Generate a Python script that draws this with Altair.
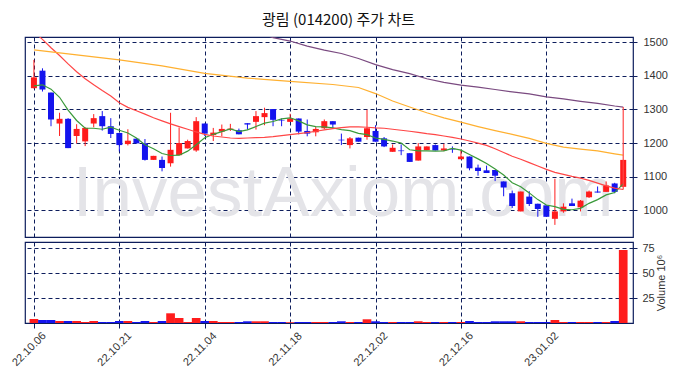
import altair as alt
import pandas as pd

# ---------------- data ----------------
opens = [1363, 1415, 1350, 1258, 1272, 1221, 1205, 1258, 1280, 1250,
         1230, 1197, 1213, 1199, 1150, 1150, 1140, 1164, 1184, 1178,
         1258, 1224, 1234, 1239, 1238, 1259, 1263, 1277, 1301, 1268,
         1263, 1273, 1236, 1232, 1244, 1265, 1210, 1194, 1216, 1218,
         1236, 1214, 1174, 1178, 1170, 1148, 1179, 1194, 1178, 1183,
         1152, 1160, 1127, 1119, 1120, 1086, 1051, 997, 1041, 1020,
         1015, 975, 997, 1021, 1009, 1039, 1056, 1055, 1080, 1070]
highs = [1447, 1422, 1350, 1290, 1274, 1256, 1247, 1286, 1295, 1274,
         1230, 1241, 1215, 1212, 1162, 1160, 1290, 1246, 1210, 1277,
         1258, 1245, 1255, 1257, 1243, 1259, 1295, 1305, 1301, 1273,
         1287, 1273, 1270, 1248, 1270, 1265, 1228, 1218, 1216, 1299,
         1253, 1218, 1196, 1196, 1170, 1200, 1190, 1196, 1198, 1190,
         1180, 1160, 1136, 1133, 1120, 1086, 1059, 1056, 1057, 1020,
         1015, 1094, 1021, 1035, 1031, 1059, 1071, 1086, 1082, 1150]
lows = [1362, 1353, 1250, 1221, 1185, 1199, 1191, 1247, 1237, 1215,
        1175, 1193, 1199, 1148, 1150, 1116, 1130, 1164, 1184, 1174,
        1221, 1206, 1220, 1236, 1226, 1240, 1240, 1253, 1250, 1250,
        1263, 1226, 1220, 1220, 1241, 1244, 1194, 1184, 1204, 1210,
        1204, 1188, 1174, 1164, 1144, 1148, 1179, 1178, 1176, 1171,
        1152, 1119, 1103, 1111, 1087, 1042, 1007, 997, 1013, 981,
        981, 957, 993, 1013, 997, 1037, 1053, 1055, 1051, 1070]
closes = [1395, 1359, 1270, 1272, 1185, 1242, 1245, 1274, 1250, 1227,
          1194, 1207, 1199, 1150, 1162, 1126, 1180, 1200, 1206, 1265,
          1228, 1231, 1242, 1243, 1226, 1255, 1280, 1289, 1269, 1266,
          1273, 1234, 1228, 1242, 1265, 1255, 1208, 1214, 1204, 1244,
          1204, 1190, 1186, 1176, 1144, 1190, 1190, 1178, 1184, 1181,
          1160, 1125, 1117, 1111, 1103, 1068, 1013, 1056, 1019, 1004,
          981, 997, 1011, 1013, 1029, 1056, 1053, 1074, 1055, 1150]
volumes = [4, 3, 3, 2, 2, 2, 1, 2, 1, 1,
           2, 2, 1, 2, 1, 2, 9.7, 5, 1, 5,
           2, 2, 1, 1, 1, 1.7, 1.7, 1.7, 1, 1,
           0.7, 1, 1, 1, 1, 1, 1.7, 1, 1, 3.7,
           1.7, 1, 1, 1, 1, 1.7, 1, 1, 1, 1,
           1, 2, 1, 1, 1.7, 1.7, 1.7, 1.7, 1, 1,
           1, 3, 1, 1, 1, 1, 1, 1, 2, 73]

ma5 = [1370, 1373, 1360, 1336, 1298, 1267, 1244, 1244, 1241, 1247,
       1238, 1230, 1215, 1195, 1183, 1169, 1163, 1164, 1176, 1195,
       1216, 1226, 1234, 1242, 1234, 1239, 1249, 1259, 1264, 1272,
       1275, 1266, 1254, 1249, 1248, 1245, 1240, 1237, 1229, 1225,
       1215, 1211, 1206, 1200, 1180, 1177, 1177, 1176, 1177, 1184,
       1179, 1166, 1153, 1139, 1123, 1105, 1082, 1070, 1052, 1032,
       1016, 1011, 1003, 1002, 1006, 1021, 1032, 1046, 1053, 1079]
ma20 = [1530, 1508, 1483, 1460, 1435, 1412, 1391, 1373, 1356, 1340,
        1320, 1306, 1296, 1286, 1275, 1266, 1257, 1249, 1241, 1233,
        1226, 1221, 1218, 1215, 1214, 1215, 1216, 1217, 1219, 1222,
        1225, 1228, 1231, 1235, 1239, 1243, 1246, 1248, 1248, 1247,
        1245, 1244, 1241, 1238, 1235, 1232, 1228, 1225, 1221, 1217,
        1212, 1206, 1200, 1193, 1183, 1172, 1161, 1152, 1142, 1132,
        1122, 1113, 1107, 1101, 1096, 1089, 1081, 1073, 1066, 1062]
ma60_idx = [0, 5, 10, 15, 20, 25, 30, 35, 38, 40, 42, 44, 46, 48, 50,
            52, 54, 56, 58, 60, 62, 64, 66, 68, 69]
ma60_val = [1477, 1462, 1447, 1429, 1407, 1393, 1383, 1374, 1365, 1347,
            1325, 1307, 1290, 1275, 1262, 1249, 1237, 1226, 1214, 1199,
            1188, 1182, 1177, 1168, 1164]
ma120_idx = [27, 28, 30, 32, 34, 36, 38, 40, 42, 44, 46, 48, 50, 52, 54,
             56, 58, 60, 62, 64, 66, 68, 69]
ma120_val = [1522, 1513, 1503, 1488, 1476, 1466, 1451, 1433, 1418, 1406,
             1391, 1380, 1372, 1366, 1359, 1352, 1346, 1337, 1331, 1324,
             1318, 1310, 1307]

tick_pos = [0, 10, 20, 30, 40, 50, 60]
tick_labels = ["22.10.06", "22.10.21", "22.11.04", "22.11.18",
               "22.12.02", "22.12.16", "23.01.02"]
price_ticks = [1000, 1100, 1200, 1300, 1400, 1500]
volume_ticks = [25, 50, 75]

title_text = "광림 (014200) 주가 차트"
watermark = "InvestAxiom.com"

# ---------------- tables ----------------
n = len(closes)
df = pd.DataFrame({
    "i": list(range(n)), "o": opens, "h": highs, "l": lows,
    "c": closes, "v": volumes,
})
df["dir"] = ["up" if c >= o else "down" for o, c in zip(opens, closes)]
df["zero"] = 0

ma_rows = []
for k, v in enumerate(ma5):
    ma_rows.append({"i": k, "val": v, "ma": "MA5"})
for k, v in enumerate(ma20):
    ma_rows.append({"i": k, "val": v, "ma": "MA20"})
for k, v in zip(ma60_idx, ma60_val):
    ma_rows.append({"i": k, "val": v, "ma": "MA60"})
for k, v in zip(ma120_idx, ma120_val):
    ma_rows.append({"i": k, "val": v, "ma": "MA120"})
ma_df = pd.DataFrame(ma_rows)

link_df = pd.DataFrame({"i": [n - 1], "a": [ma20[-1]], "b": [ma120_val[-1]]})

RED = "#ff1c1c"
BLUE = "#1414ee"
NAVY = "#0d1d5c"
FONT = "Liberation Sans"

xscale = alt.Scale(domain=[-0.46, 69.56], nice=False, zero=False)
pscale = alt.Scale(domain=[921, 1515], nice=False, zero=False)
vscale = alt.Scale(domain=[0, 81], nice=False)
cscale = alt.Scale(domain=["up", "down"], range=[RED, BLUE])
mscale = alt.Scale(domain=["MA5", "MA20", "MA60", "MA120"],
                   range=["#3a9a3a", "#ff4646", "#ffb030", "#7a4a80"])

grid_kw = dict(grid=True, gridColor=NAVY, gridDash=[4, 3], gridWidth=1,
               gridOpacity=1)

x_axis_top = alt.Axis(values=tick_pos, labels=False, ticks=False,
                      domain=False, **grid_kw)
y_price_axis = alt.Axis(orient="right", values=price_ticks,
                        format="d", labelOverlap=False,
                        title=None, domain=False, tickSize=4, tickColor=NAVY,
                        labelFont=FONT, labelFontSize=11, labelColor="#333333",
                        labelPadding=6, **grid_kw)


def X(field="i:Q"):
    return alt.X(field, scale=xscale, title=None, axis=x_axis_top)


def Y(field):
    return alt.Y(field, scale=pscale, title=None, axis=y_price_axis)


base = alt.Chart(df)

wm = alt.Chart(pd.DataFrame({"t": [watermark]})).mark_text(
    font=FONT, fontSize=71, color="#e4e4e8", align="center",
    baseline="alphabetic").encode(text="t:N", x=alt.value(318), y=alt.value(179))

wick = base.mark_rule(strokeWidth=1).encode(
    x=X(), y=Y("l:Q"), y2="h:Q",
    color=alt.Color("dir:N", scale=cscale, legend=None),
)
body = base.mark_bar(size=6).encode(
    x=X(), y=Y("o:Q"), y2="c:Q",
    color=alt.Color("dir:N", scale=cscale, legend=None),
)
lines = alt.Chart(ma_df).mark_line(strokeWidth=1.2, clip=True).encode(
    x=X(), y=Y("val:Q"),
    color=alt.Color("ma:N", scale=mscale, legend=None),
    detail="ma:N",
    order="i:Q",
)
link = alt.Chart(link_df).mark_rule(color="#ff4646", strokeWidth=1.2).encode(
    x=X(), y=Y("a:Q"), y2="b:Q")

price = alt.layer(wm, wick, body, lines, link).resolve_scale(
    color="independent").properties(width=608, height=200)

labels_js = "[" + ",".join("'" + s + "'" for s in tick_labels) + "]"
pos_js = "[" + ",".join(str(p) for p in tick_pos) + "]"

vol = base.mark_bar(size=8.7, orient="vertical").encode(
    x=alt.X("i:Q", scale=xscale, title=None,
            axis=alt.Axis(values=tick_pos,
                          labelExpr=labels_js + "[indexof(" + pos_js + ", datum.value)]",
                          labelAngle=-45, labelAlign="center", labelBaseline="middle",
                          labelFont=FONT, labelFontSize=11, labelOffset=-5,
                          labelColor="#333333", tickSize=5, tickColor=NAVY,
                          domain=False, labelPadding=21, **grid_kw)),
    y=alt.Y("v:Q", scale=vscale,
            axis=alt.Axis(orient="right", values=volume_ticks, title="Volume  10⁶",
                          titleAngle=270, titleFont=FONT, titleFontSize=11,
                          titleFontWeight="normal", titleColor="#333333",
                          titlePadding=12, labelOverlap=False,
                          domain=False, tickSize=4, tickColor=NAVY,
                          labelFont=FONT, labelFontSize=11, labelColor="#333333",
                          labelPadding=5, **grid_kw)),
    y2="zero:Q",
    color=alt.Color("dir:N", scale=cscale, legend=None),
).properties(width=608, height=81)

chart = alt.vconcat(price, vol, spacing=3).properties(
    title=alt.TitleParams(title_text, font="Noto Sans CJK KR", fontSize=15,
                          fontWeight="normal", color="#111111", anchor="middle",
                          offset=7),
    padding={"left": 0, "top": 5, "right": 0, "bottom": 0},
).configure_view(stroke=NAVY, strokeWidth=1.2).configure_concat(spacing=3)

chart.save("out.html", embed_options={"renderer": "svg", "actions": False})
